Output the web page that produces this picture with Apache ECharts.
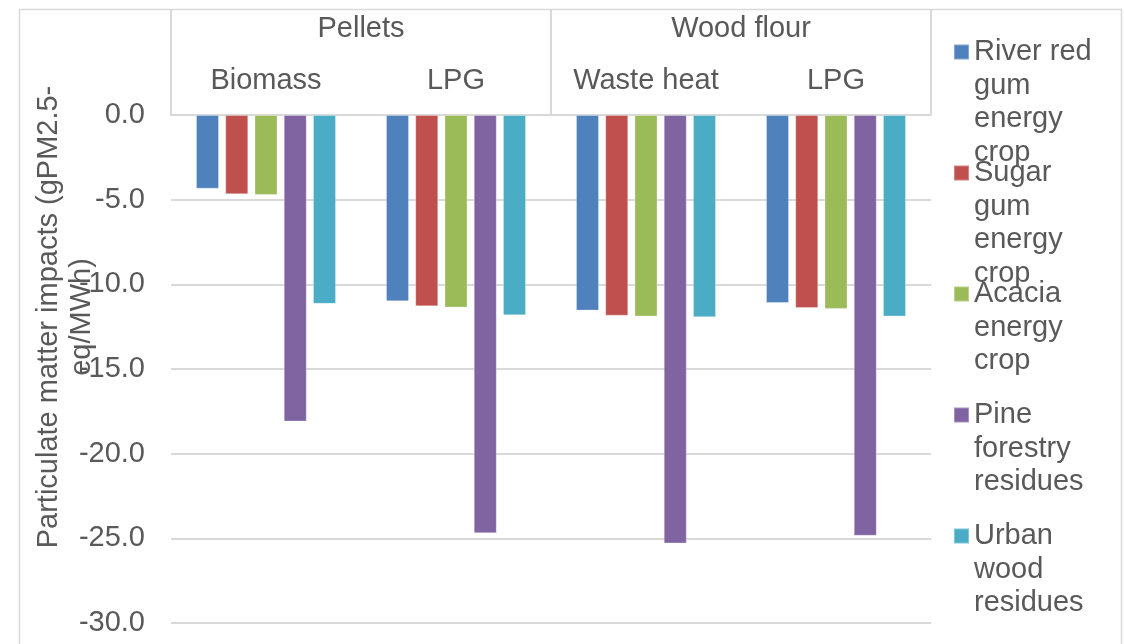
<!DOCTYPE html>
<html>
<head>
<meta charset="utf-8">
<script src="https://cdn.jsdelivr.net/npm/echarts@6/dist/echarts.min.js"></script>
<style>
  html, body { margin: 0; padding: 0; background: #ffffff; }
  #chart { width: 1124px; height: 644px; }
</style>
</head>
<body>
<div id="chart"></div>
<script>
// Heating process per column, grouped by wood product
const processes = ['Biomass', 'LPG', 'Waste heat', 'LPG'];
const products = ['Pellets', 'Wood flour'];

// Feedstock series and their wrapped legend text
const feedstocks = [
  'River red gum energy crop',
  'Sugar gum energy crop',
  'Acacia energy crop',
  'Pine forestry residues',
  'Urban wood residues'
];
const feedstockLines = [
  ['River red', 'gum', 'energy', 'crop'],
  ['Sugar', 'gum', 'energy', 'crop'],
  ['Acacia', 'energy', 'crop'],
  ['Pine', 'forestry', 'residues'],
  ['Urban', 'wood', 'residues']
];

// Particulate matter impacts (gPM2.5-eq/MWh) per process column
const riverRedGum  = [-4.35, -11.0, -11.55, -11.1];
const sugarGum     = [-4.68, -11.3, -11.85, -11.4];
const acacia       = [-4.72, -11.37, -11.9, -11.45];
const pineResidues = [-18.1, -24.7, -25.3, -24.85];
const urbanWood    = [-11.15, -11.83, -11.94, -11.9];

const yMin = -30, yMax = 0, yStep = 5;
const yTitle = 'Particulate matter impacts (gPM2.5-\neq/MWh)';

const seriesValues = [riverRedGum, sugarGum, acacia, pineResidues, urbanWood];
const colors = ['#4F81BD', '#C0504D', '#9BBB59', '#8064A2', '#4BACC6'];

const FONT = '"Liberation Sans", Arial, sans-serif';
const FS = 29;
const LH = 33.5;
const TEXT = '#595959';
const RULE = '#d9d9d9';

// One legend block per feedstock; each block's first line sits beside its swatch
const legends = feedstocks.map((name, i) => {
  const lines = feedstockLines[i];
  const n = lines.length;
  const firstLineCentre = 52 + i * 121;
  return {
    data: [name],
    orient: 'vertical',
    left: 953,
    top: firstLineCentre - (2 * n - 1) * LH / 2,
    padding: 0,
    itemWidth: 15,
    itemHeight: 15,
    icon: 'rect',
    selectedMode: false,
    formatter: () => '\n'.repeat(n - 1) + lines.join('\n'),
    textStyle: { fontFamily: FONT, fontSize: FS, lineHeight: LH, color: TEXT }
  };
});

const chart = echarts.init(document.getElementById('chart'), null, { renderer: 'canvas' });

chart.setOption({
  animation: false,
  backgroundColor: '#ffffff',
  color: colors,
  textStyle: { fontFamily: FONT },
  graphic: [{
    type: 'rect',
    shape: { x: 19.5, y: 9.5, width: 1102, height: 700 },
    style: { fill: 'none', stroke: RULE, lineWidth: 1.5 },
    silent: true,
    z: -1
  }],
  grid: {
    left: 171, right: 193, top: 115, bottom: 21,
    containLabel: false,
    outerBoundsMode: 'none'
  },
  legend: legends,
  xAxis: [
    {
      type: 'category',
      position: 'top',
      data: processes,
      axisLine: { show: true, lineStyle: { color: RULE, width: 2 } },
      axisTick: { show: false },
      axisLabel: {
        interval: 0, margin: 17,
        fontFamily: FONT, fontSize: FS, lineHeight: LH, color: TEXT
      },
      splitLine: { show: false }
    },
    {
      type: 'category',
      position: 'top',
      data: products,
      axisLine: { show: false },
      axisTick: { show: true, length: 105, interval: 0, lineStyle: { color: RULE, width: 2 } },
      axisLabel: {
        interval: 0, margin: 69,
        fontFamily: FONT, fontSize: FS, lineHeight: LH, color: TEXT
      },
      splitLine: { show: false }
    }
  ],
  yAxis: {
    type: 'value',
    min: yMin,
    max: yMax,
    interval: yStep,
    name: yTitle,
    nameLocation: 'middle',
    nameRotate: 90,
    nameGap: 72,
    nameMoveOverlap: false,
    nameTextStyle: {
      fontFamily: FONT, fontSize: FS, lineHeight: LH, color: TEXT,
      align: 'center', padding: [0, 0, 0, 104]
    },
    axisLine: { show: false },
    axisTick: { show: false },
    axisLabel: {
      margin: 26,
      fontFamily: FONT, fontSize: FS, color: TEXT,
      formatter: v => v.toFixed(1)
    },
    splitLine: { show: true, lineStyle: { color: RULE, width: 2 } }
  },
  series: feedstocks.map((name, i) => ({
    name,
    type: 'bar',
    xAxisIndex: 0,
    yAxisIndex: 0,
    data: seriesValues[i],
    barCategoryGap: '26.3%',
    barGap: '27%',
    itemStyle: { color: colors[i], borderColor: 'rgba(255,255,255,0.3)', borderWidth: 1 },
    emphasis: { disabled: true }
  }))
});
</script>
</body>
</html>
